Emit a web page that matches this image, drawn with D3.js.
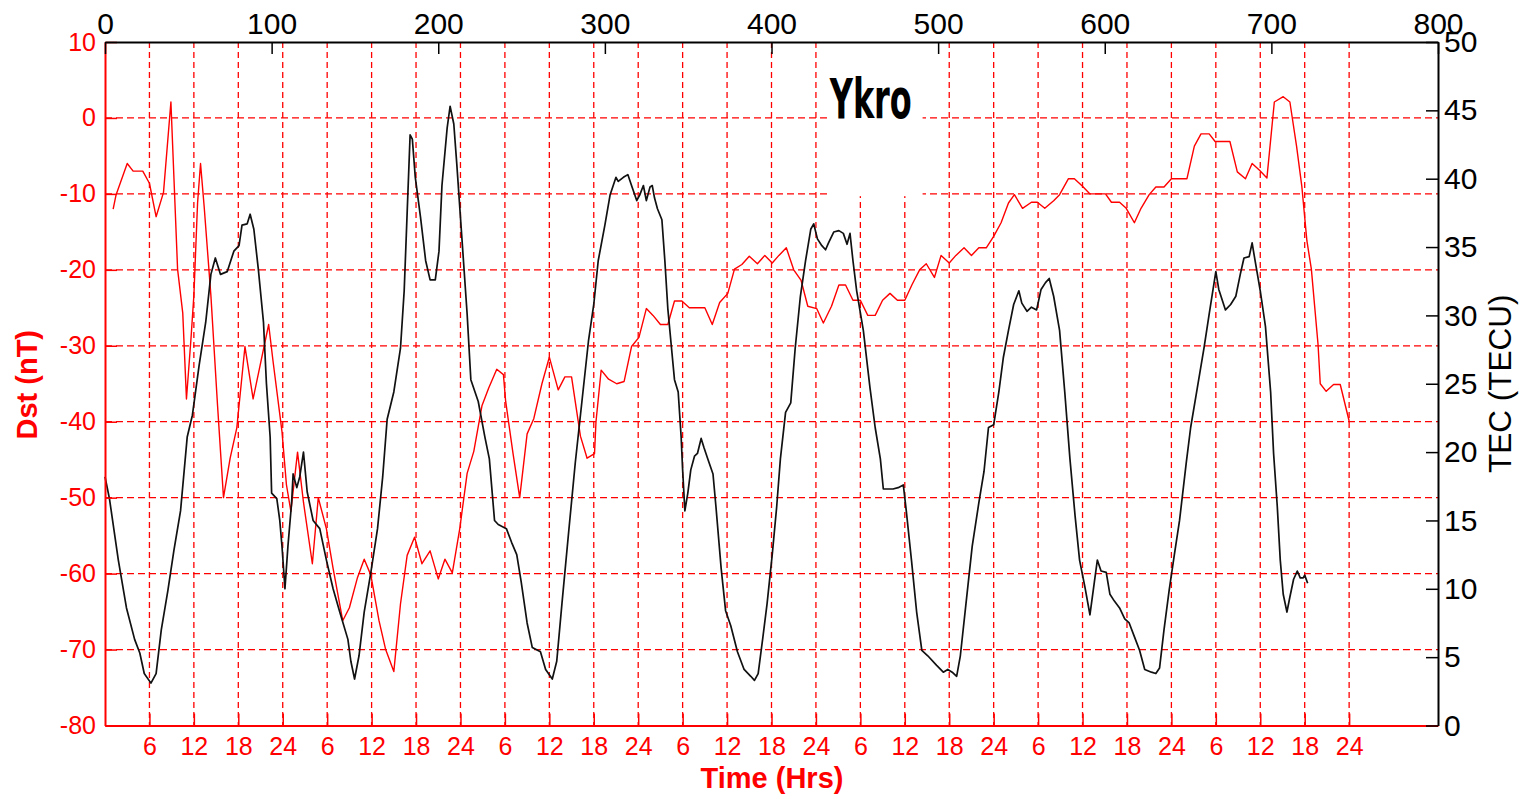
<!DOCTYPE html>
<html>
<head>
<meta charset="utf-8">
<script src="https://cdn.jsdelivr.net/npm/d3@7"></script>
<style>
  body { margin: 0; background: #fff; }
  svg { display: block; font-family: "Liberation Sans", Arial, sans-serif; }
</style>
</head>
<body>
<div id="chart"></div>
<script>
// Dst (nT): hour of the week and value
const dstHours = [1.1, 1.5, 3, 3.8, 5.1, 6, 6.9, 7.9, 8.9, 9.8, 10.5, 11, 11.6, 12, 12.5, 12.9, 13.4, 14.3, 15.2, 16,
  16.9, 17.8, 18.9, 20, 22.1, 22.7, 23.9, 24.5, 25.1, 26, 26.8, 28, 28.8, 29.9, 30.8, 32.1, 33, 34.1, 35, 35.9,
  37, 37.9, 39, 39.9, 40.8, 41.8, 42.8, 43.9, 45, 45.9, 46.9, 47.9, 48.9, 49.8, 50.9, 51.8, 52.9, 53.8, 54.1, 55.1,
  56, 57, 57.9, 59, 60, 61.2, 62.1, 63, 64.2, 65.1, 66.1, 66.3, 67, 68, 69.1, 70.1, 71.1, 72.1, 73.1, 74,
  75, 76, 76.9, 77.9, 78.9, 80, 81, 82, 83, 84.1, 85, 86, 87, 88.1, 89.1, 90.1, 91, 92, 93, 94,
  94.9, 96.1, 97, 98.1, 99.1, 100, 101, 102, 103, 104, 105, 106, 107, 108, 109, 110, 110.9, 112, 112.9, 114,
  114.9, 116, 117, 118, 119, 120, 121, 122, 122.8, 123.9, 125.1, 125.9, 126.9, 128.1, 128.9, 130.1, 130.9, 132, 133, 134.1,
  135.1, 135.9, 137, 137.9, 139, 139.9, 141, 141.9, 143, 144, 145.1, 146.1, 147.1, 148, 149.1, 149.9, 150.9, 151.9, 152.9, 154,
  154.9, 155.9, 156.9, 157.9, 159.1, 160, 160.9, 161.6, 162.3, 162.9, 163.8, 164.1, 164.9, 165.9, 166.8, 168];
const dstValues = [-12, -10.1, -6, -7, -7, -8.6, -13, -9.8, 2.1, -19.9, -25.7, -37, -29.2, -23.4, -11.2, -6, -11.8, -23.4, -37.9, -50,
  -44.8, -40.8, -30.1, -37, -27.2, -32.1, -41.3, -48.3, -51.8, -44, -50.6, -58.7, -50, -54.1, -59.3, -66.2, -64.5, -60.5, -58.1, -60.2,
  -66.2, -70, -72.9, -64, -57.6, -55.2, -58.7, -57, -60.7, -58.1, -59.9, -54.1, -46.8, -43.9, -37.9, -35.6, -33.1, -33.8, -37.3, -44.2,
  -50, -41.6, -39.6, -35, -31.5, -35.8, -34.1, -34.1, -41.9, -44.8, -44.2, -40, -33.2, -34.4, -35, -34.7, -30.1, -28.9, -25.1, -26,
  -27.2, -27.2, -24.1, -24.1, -25, -25, -25, -27.2, -24.3, -23.1, -19.9, -19.3, -18.2, -19.2, -18.1, -19.1, -18.1, -17.1, -20, -21.4,
  -24.8, -25.1, -27, -24.8, -22, -22, -24, -24, -26, -26, -24, -23.1, -24, -24, -21.9, -20, -19.2, -21, -18.1, -19.1,
  -18.1, -17.1, -18.1, -17.1, -17.1, -15.6, -13.8, -11.2, -10.1, -11.9, -11.1, -11.1, -11.9, -10.9, -10.1, -8, -8, -9, -10, -10,
  -10, -11.1, -11.1, -11.9, -13.8, -11.9, -10.1, -9.1, -9.1, -8, -8, -8, -3.7, -2.1, -2.1, -3.1, -3.1, -3.1, -7.1, -8,
  -6, -6.9, -7.9, 2.1, 2.8, 2.1, -3.7, -8.9, -16.2, -19.9, -29.8, -35, -36, -35.1, -35.1, -39.9];

// TEC (TECU)
const tecHours = [0, 0.6, 1.8, 2.9, 4, 4.7, 5.3, 6.2, 6.9, 7.6, 8.5, 9.3, 10.2, 11.1, 11.8, 12.7, 13.6, 14.3, 14.9, 15.6,
  16.5, 17.4, 18.1, 18.5, 19.2, 19.6, 20.1, 20.7, 21.4, 21.8, 22.3, 22.5, 23.2, 23.6, 23.9, 24.3, 24.7, 25.2, 25.4, 25.9,
  26.3, 26.8, 27.3, 28.1, 29, 29.9, 30.8, 31.7, 32.8, 33.2, 33.7, 34.3, 35, 35.9, 36.8, 37.5, 38.1, 39, 39.9, 40.4,
  40.8, 41.2, 41.5, 41.9, 42.6, 43.3, 43.9, 44.6, 45.1, 45.5, 46.2, 46.6, 47.1, 47.5, 48.2, 48.9, 49.4, 50.4, 51.3, 51.9,
  52.6, 53.1, 54.2, 54.9, 55.6, 56.2, 57, 57.7, 58.8, 59.5, 60.4, 61, 61.7, 62.6, 63.5, 64.4, 65.3, 66, 66.6, 67.5,
  68.2, 69, 69.3, 70, 70.6, 71.1, 71.8, 72.2, 72.7, 73.1, 73.6, 73.9, 74.2, 74.6, 75.2, 75.6, 76, 76.5, 76.9, 77.4,
  77.8, 78, 78.3, 78.7, 79.1, 79.6, 80, 80.5, 80.9, 81.4, 82.1, 82.5, 83.2, 83.8, 84.5, 85.4, 86.3, 87.2, 87.7, 88.2,
  88.8, 89.4, 90.1, 90.7, 91.2, 91.9, 92.6, 93.2, 93.9, 94.6, 95.3, 95.7, 96.2, 96.8, 97.3, 97.7, 98.4, 99.1, 99.7, 100.2,
  100.6, 101, 101.5, 102.4, 103.3, 104, 104.7, 105.1, 105.8, 106.4, 107.1, 107.8, 108.2, 108.9, 109.6, 110.3, 111.1, 112.3, 113.2, 113.8,
  114.4, 115, 115.5, 116.2, 117.1, 118, 118.7, 119.3, 120, 120.7, 121.3, 122, 122.7, 123.4, 123.8, 124.5, 125.1, 125.8, 126.4, 127,
  127.5, 128.1, 128.9, 129.6, 130.3, 131, 131.6, 132.3, 133, 133.6, 134, 134.5, 135.2, 135.7, 136.3, 137, 137.7, 138.3, 139, 139.7,
  140.4, 141.3, 141.9, 142.4, 143, 143.7, 144.4, 145.1, 146, 146.6, 147.5, 148.4, 149.1, 150, 150.4, 151.3, 152, 152.7, 153.3, 153.8,
  154.5, 154.9, 155.3, 156, 156.7, 157.4, 157.8, 158.3, 158.7, 159.1, 159.6, 160, 160.5, 161, 161.4, 161.8, 162, 162.4];
const tecValues = [18.2, 16.6, 12.1, 8.6, 6.3, 5.3, 3.8, 3.1, 3.8, 7, 9.9, 12.8, 15.7, 21.1, 22.7, 26.3, 29.5, 33, 34.2, 33,
  33.2, 34.7, 35.1, 36.6, 36.7, 37.4, 36.3, 33.4, 29.5, 25, 21.1, 17, 16.6, 15, 13.1, 10, 13.1, 16.3, 18.4, 17.4,
  18.2, 20, 17.1, 15, 14.4, 12.1, 10, 8.3, 6.3, 4.7, 3.4, 5.1, 8.3, 11.2, 14.4, 18.2, 22.4, 24.4, 27.6, 31.8,
  37.5, 43.2, 42.9, 40.1, 37.2, 34, 32.6, 32.6, 34.7, 39.5, 43.7, 45.3, 44, 41.1, 35.6, 30.1, 25.3, 23.7, 21.1, 19.5,
  15, 14.7, 14.4, 13.4, 12.5, 10.5, 7.5, 5.7, 5.4, 4.1, 3.4, 4.7, 8.9, 14.1, 19.2, 23.7, 28.2, 30.8, 34, 36.6,
  38.8, 40.1, 39.8, 40.1, 40.3, 39.5, 38.4, 38.8, 39.5, 38.4, 39.4, 39.5, 38.6, 37.8, 37, 34, 30.5, 27.6, 25.3, 24.4,
  21.1, 18.7, 15.7, 17, 18.7, 19.7, 19.9, 21, 20.3, 19.5, 18.4, 16, 11.5, 8.4, 7.3, 5.4, 4.1, 3.6, 3.3, 3.8,
  6.3, 8.9, 12.5, 16, 19.5, 22.9, 23.6, 27.6, 31.4, 34, 36.3, 36.7, 35.6, 35.1, 34.8, 35.3, 36.1, 36.2, 36, 35.2,
  36, 34, 31.8, 28.9, 24.7, 21.8, 19.5, 17.3, 17.3, 17.3, 17.4, 17.6, 15.7, 12.1, 8.3, 5.5, 5.1, 4.4, 3.9, 4.1,
  3.9, 3.6, 5.1, 8.6, 13.1, 16.3, 18.6, 21.8, 22, 24.4, 26.9, 28.9, 30.8, 31.8, 30.9, 30.3, 30.6, 30.4, 31.9, 32.4,
  32.7, 31.4, 28.9, 24.4, 19.5, 15.3, 12.1, 10.2, 8.1, 10.5, 12.1, 11.3, 11.2, 9.6, 9.1, 8.6, 7.8, 7.5, 6.5, 5.5,
  4.1, 3.9, 3.8, 4.2, 7, 9.9, 12.5, 15, 19.2, 21.8, 24.7, 27.6, 30.1, 33.2, 31.9, 30.4, 30.8, 31.4, 33, 34.2,
  34.3, 35.3, 34, 31.8, 29.2, 24.4, 19.9, 16, 12.1, 9.6, 8.3, 9.4, 10.7, 11.3, 10.8, 10.8, 11, 10.4];

// Tick values and labels
const hourTicks = [6, 12, 18, 24, 30, 36, 42, 48, 54, 60, 66, 72, 78, 84, 90, 96, 102, 108, 114, 120,
  126, 132, 138, 144, 150, 156, 162, 168];
const hourLabels = ["6", "12", "18", "24", "6", "12", "18", "24", "6", "12", "18", "24", "6", "12", "18", "24",
  "6", "12", "18", "24", "6", "12", "18", "24", "6", "12", "18", "24"];
const topTicks = [0, 100, 200, 300, 400, 500, 600, 700, 800];
const dstTicks = [-80, -70, -60, -50, -40, -30, -20, -10, 0, 10];
const dstGrid = [-70, -60, -50, -40, -30, -20, -10, 0];
const tecTicks = [0, 5, 10, 15, 20, 25, 30, 35, 40, 45, 50];

const width = 1531, height = 799;
const plot = { left: 105, right: 1438, top: 42, bottom: 725.5 };
const red = "#ff0000";

const svg = d3.select("#chart").append("svg")
    .attr("width", width)
    .attr("height", height);

svg.append("rect").attr("width", width).attr("height", height).attr("fill", "#fff");

// Scales
const x = d3.scaleLinear().domain([0, 180]).range([plot.left, plot.right]);
const xTop = d3.scaleLinear().domain([0, 800]).range([plot.left, plot.right]);
const yDst = d3.scaleLinear().domain([-80, 10]).range([plot.bottom, plot.top]);
const yTec = d3.scaleLinear().domain([0, 50]).range([plot.bottom, plot.top]);

// Grid
const grid = svg.append("g")
    .attr("stroke", red)
    .attr("stroke-width", 1.3);

grid.selectAll(".vgrid")
    .data(hourTicks)
    .enter().append("line")
    .attr("x1", d => x(d)).attr("x2", d => x(d))
    .attr("y1", plot.top).attr("y2", plot.bottom)
    .attr("stroke-dasharray", "6,4");

grid.selectAll(".hgrid")
    .data(dstGrid)
    .enter().append("line")
    .attr("x1", plot.left).attr("x2", plot.right)
    .attr("y1", d => yDst(d)).attr("y2", d => yDst(d))
    .attr("stroke-dasharray", "7,4");

// White label box and station name
svg.append("rect")
    .attr("x", x(97.6))
    .attr("y", plot.top + 1)
    .attr("width", x(110.4) - x(97.6))
    .attr("height", yDst(-10.3) - plot.top - 1)
    .attr("fill", "#fff");

svg.append("text")
    .attr("x", x(97.6) + 2)
    .attr("y", yDst(0))
    .attr("font-family", "'Liberation Sans Narrow', 'DejaVu Sans Condensed', sans-serif")
    .attr("font-weight", "bold")
    .attr("font-size", 56)
    .attr("textLength", 82)
    .attr("lengthAdjust", "spacingAndGlyphs")
    .attr("fill", "#000")
    .text("Ykro");

// Lines
const dstLine = d3.line()
    .x((d, i) => x(dstHours[i]))
    .y(d => yDst(d));

const tecLine = d3.line()
    .x((d, i) => x(tecHours[i]))
    .y(d => yTec(d));

svg.append("path")
    .datum(dstValues)
    .attr("fill", "none")
    .attr("stroke", red)
    .attr("stroke-width", 1.4)
    .attr("stroke-linejoin", "round")
    .attr("d", dstLine);

svg.append("path")
    .datum(tecValues)
    .attr("fill", "none")
    .attr("stroke", "#111")
    .attr("stroke-width", 1.7)
    .attr("stroke-linejoin", "round")
    .attr("d", tecLine);

// Axes
function styleAxis(g, color, size) {
    g.attr("font-family", null).attr("font-size", size);
    g.select(".domain").attr("stroke", color).attr("stroke-width", 2);
    g.selectAll(".tick line").attr("stroke", color).attr("stroke-width", 1.5);
    g.selectAll(".tick text").attr("fill", color);
}

// plain hyphen for negatives, as in the figure
svg.append("g")
    .attr("transform", `translate(${plot.left},0)`)
    .call(d3.axisLeft(yDst).tickValues(dstTicks).tickFormat(d => String(d))
        .tickSize(-12).tickSizeOuter(0).tickPadding(9))
    .call(g => styleAxis(g, red, 25));

svg.append("g")
    .attr("transform", `translate(0,${plot.bottom})`)
    .call(d3.axisBottom(x).tickValues(hourTicks).tickFormat((d, i) => hourLabels[i])
        .tickSize(-12).tickSizeOuter(0).tickPadding(12))
    .call(g => styleAxis(g, red, 25));

svg.append("g")
    .attr("transform", `translate(0,${plot.top})`)
    .call(d3.axisTop(xTop).tickValues(topTicks).tickSize(-12).tickSizeOuter(0).tickPadding(8))
    .call(g => styleAxis(g, "#000", 30));

svg.append("g")
    .attr("transform", `translate(${plot.right},0)`)
    .call(d3.axisRight(yTec).tickValues(tecTicks).tickSize(-12).tickSizeOuter(0).tickPadding(6))
    .call(g => styleAxis(g, "#000", 30));

// Axis titles
svg.append("text")
    .attr("transform", `translate(37,${(plot.top + plot.bottom) / 2 + 1}) rotate(-90)`)
    .attr("text-anchor", "middle")
    .attr("font-size", 29)
    .attr("font-weight", "bold")
    .attr("fill", red)
    .text("Dst (nT)");

svg.append("text")
    .attr("transform", `translate(1511,${(plot.top + plot.bottom) / 2}) rotate(-90)`)
    .attr("text-anchor", "middle")
    .attr("font-size", 31.5)
    .attr("fill", "#000")
    .text("TEC (TECU)");

svg.append("text")
    .attr("x", 772)
    .attr("y", 788)
    .attr("text-anchor", "middle")
    .attr("font-size", 29)
    .attr("font-weight", "bold")
    .attr("fill", red)
    .text("Time (Hrs)");
</script>
</body>
</html>
